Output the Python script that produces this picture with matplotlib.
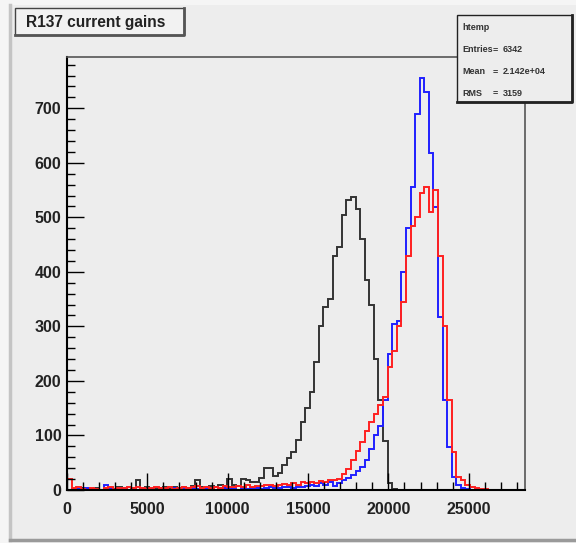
import numpy as np
import matplotlib
matplotlib.use("Agg")
import matplotlib.pyplot as plt
from matplotlib.patches import Rectangle
from matplotlib.lines import Line2D
from matplotlib.ticker import MultipleLocator

# histogram binning (ROOT htemp style, 100 bins)
x_lo, x_hi, n_bins = 0, 28500, 100

black_counts = [
    0, 2, 0, 3, 0, 2, 4, 0, 3, 2,
    2, 5, 3, 0, 4, 18, 3, 5, 2, 4,
    3, 5, 4, 6, 3, 5, 4, 8, 18, 6,
    5, 8, 6, 10, 7, 20, 9, 8, 20, 18,
    15, 15, 22, 40, 40, 25, 31, 45, 58, 70,
    92, 125, 150, 180, 235, 300, 336, 350, 430, 445,
    505, 532, 538, 515, 460, 385, 340, 240, 165, 90,
    12, 2, 0, 0, 0, 0, 0, 0, 0, 0,
    0, 0, 0, 0, 0, 0, 0, 0, 0, 0,
    0, 0, 0, 0, 0, 0, 0, 0, 0, 0,
]
blue_counts = [
    0, 0, 2, 0, 3, 0, 0, 0, 10, 3,
    2, 0, 3, 0, 2, 0, 3, 0, 2, 0,
    0, 2, 0, 3, 0, 2, 0, 3, 2, 0,
    3, 2, 0, 2, 4, 3, 2, 0, 3, 2,
    3, 4, 2, 3, 5, 3, 4, 6, 5, 3,
    6, 5, 8, 10, 8, 12, 10, 14, 8, 12,
    18, 22, 28, 35, 42, 55, 75, 100, 118, 165,
    250, 305, 310, 400, 480, 555, 690, 756, 730, 618,
    519, 317, 165, 79, 24, 9, 4, 2, 0, 1,
    0, 0, 0, 0, 0, 0, 0, 0, 0, 0,
]
red_counts = [
    20, 3, 5, 2, 0, 4, 2, 0, 3, 5,
    2, 4, 3, 6, 3, 5, 4, 2, 3, 6,
    4, 3, 5, 2, 4, 6, 3, 5, 7, 4,
    5, 3, 6, 4, 7, 5, 6, 8, 5, 9,
    6, 8, 7, 9, 10, 8, 9, 11, 10, 12,
    10, 14, 12, 15, 13, 16, 15, 18, 18, 20,
    30, 38, 55, 72, 88, 108, 125, 140, 155, 170,
    225, 255, 300, 345, 430, 485, 500, 545, 555, 510,
    550, 430, 300, 165, 70, 24, 18, 10, 5, 3,
    2, 1, 0, 0, 0, 0, 0, 0, 0, 0,
]

title = "R137 current gains"
stats_names = ["Entries", "Mean", "RMS"]
stats_values = ["6342", "2.142e+04", "3159"]

W, H = 576, 543
bg = "#ededed"
plt.rcParams['font.family'] = ['Liberation Sans', 'DejaVu Sans']
plt.rcParams['font.weight'] = 'bold'

fig = plt.figure(figsize=(W / 100, H / 100), dpi=100, facecolor="#f5f5f5")

def fx(px):
    return px / W

def fy(py):
    return 1 - py / H

# pad with bevelled border
fig.patches.append(Rectangle((fx(10), fy(540)), fx(576 - 10), (540 - 5) / H,
                             transform=fig.transFigure, facecolor=bg,
                             edgecolor="none", zorder=-10))
fig.lines.append(Line2D([fx(10), fx(10)], [fy(540), fy(5)], transform=fig.transFigure,
                        color="#c4c4c4", lw=2.5, zorder=-5))
fig.lines.append(Line2D([fx(10), fx(576)], [fy(540), fy(540)], transform=fig.transFigure,
                        color="#9a9a9a", lw=2.5, zorder=-5))

ax = fig.add_axes([fx(67), fy(490), fx(525 - 67), (490 - 57) / H])
ax.set_zorder(1)
ax.set_facecolor(bg)

edges = np.linspace(x_lo, x_hi, n_bins + 1)
ax.stairs(black_counts, edges, color="#333333", lw=1.4)
ax.stairs(blue_counts, edges, color="#2020ff", lw=1.4)
ax.stairs(red_counts, edges, color="#ff2020", lw=1.4)

ax.set_xlim(x_lo, x_hi)
ax.set_ylim(0, 794)
ax.xaxis.set_major_locator(MultipleLocator(5000))
ax.xaxis.set_minor_locator(MultipleLocator(1000))
ax.yaxis.set_major_locator(MultipleLocator(100))
ax.yaxis.set_minor_locator(MultipleLocator(20))
ax.tick_params(which='both', direction='in', top=False, right=False, labelsize=11.5,
               width=1, labelcolor="#222222")
ax.tick_params(which='major', length=12)
ax.tick_params(which='minor', length=6)
ax.tick_params(axis='x', pad=9)
ax.tick_params(axis='y', pad=4)
for s in ('top', 'right'):
    ax.spines[s].set_color("#555555")
    ax.spines[s].set_linewidth(1.2)
for s in ('left', 'bottom'):
    ax.spines[s].set_color("black")
    ax.spines[s].set_linewidth(1.5)

# title box
fig.patches.append(Rectangle((fx(15), fy(35)), fx(184 - 15), (35 - 8) / H,
                             transform=fig.transFigure, facecolor="#f2f2f2",
                             edgecolor="#444444", lw=1.0, zorder=5))
fig.lines.append(Line2D([fx(15), fx(184), fx(184)], [fy(35), fy(35), fy(8)],
                        transform=fig.transFigure, color="#555555", lw=2, zorder=6))
fig.text(fx(26), fy(22), title, fontsize=11.2, fontweight='bold', va='center', ha='left',
         color="#222222", zorder=6)

# stats box
fig.patches.append(Rectangle((fx(457), fy(102)), fx(572 - 457), (102 - 15) / H,
                             transform=fig.transFigure, facecolor=bg, edgecolor="#222222",
                             lw=1.0, zorder=5))
fig.lines.append(Line2D([fx(457), fx(572), fx(572)], [fy(102), fy(102), fy(15)],
                        transform=fig.transFigure, color="#222222", lw=2, zorder=6))
fig.text(fx(462), fy(28), "htemp", fontsize=6.5, fontweight='bold', va='center', ha='left',
         color="#333333", zorder=7)
for name, val, py in zip(stats_names, stats_values, [50, 72, 93]):
    fig.text(fx(462), fy(py), name, fontsize=6.5, fontweight='bold', va='center', ha='left',
             color="#333333", zorder=7)
    fig.text(fx(493), fy(py), "=", fontsize=6.5, fontweight='bold', va='center', ha='left',
             color="#333333", zorder=7)
    fig.text(fx(503), fy(py), val, fontsize=6.5, fontweight='bold', va='center', ha='left',
             color="#333333", zorder=7)

fig.savefig("out.png", dpi=100, facecolor=fig.get_facecolor())
